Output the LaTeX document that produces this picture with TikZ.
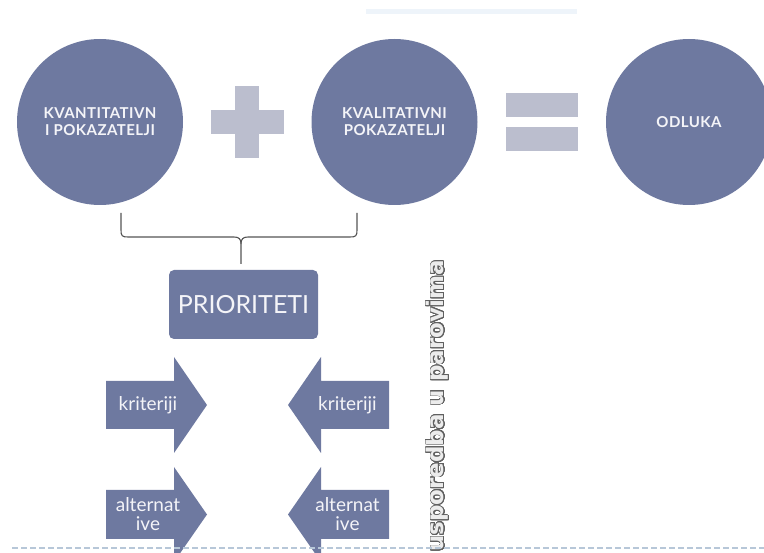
\documentclass[tikz,border=0pt]{standalone}
\usepackage{fontspec}
\setmainfont{Lato}
\newfontfamily\circfont[LetterSpace=3]{Lato}
\newfontfamily\rotfont{DejaVu Sans}
\usepackage[copies]{contour}
\contourlength{0.75pt}
\contournumber{32}
\definecolor{slate}{HTML}{6E79A0}
\definecolor{lightop}{HTML}{BBBECE}
\definecolor{txtw}{HTML}{F4F4F8}
\definecolor{dashc}{HTML}{B7C7D8}
\definecolor{bracec}{HTML}{555555}
\definecolor{faint}{HTML}{EEF4FA}
\tikzset{
  bigcirc/.style={circle, fill=slate, minimum size=166pt, inner sep=0pt, text=txtw,
    align=center, font=\circfont\bfseries\fontsize{15}{17}\selectfont},
  opbar/.style={fill=lightop},
  arrowshape/.style={fill=slate},
  arrowtext/.style={text=txtw, align=center, inner sep=0pt, font=\fontsize{19}{19}\selectfont},
  prbox/.style={rectangle, rounded corners=5pt, fill=slate, text=txtw, inner sep=0pt,
    minimum width=149pt, minimum height=69pt, font=\fontsize{25}{28}\selectfont},
  bracestyle/.style={draw=bracec, line width=1.1pt},
  dashline/.style={draw=dashc, line width=1.3pt, dash pattern=on 5.5pt off 3.5pt}
}
\begin{document}
\begin{tikzpicture}[x=1pt,y=-1pt]
\useasboundingbox (0,0) rectangle (764,553);
\clip (0,0) rectangle (764,553);
% faint strip at top
\fill[faint] (366,9) rectangle (577,14);
% circles
\node[bigcirc] (kvant) at (100,122) {KVANTITATIVN\\I POKAZATELJI};
\node[bigcirc] (kval) at (394.5,122) {KVALITATIVNI\\POKAZATELJI};
\node[bigcirc] (odl) at (689,122) {ODLUKA};
% plus
\fill[opbar] (235,86) rectangle (259,158);
\fill[opbar] (211,110) rectangle (284,134);
% equals
\fill[opbar] (506,93) rectangle (578,117);
\fill[opbar] (506,127) rectangle (578,151);
% brace
\coordinate (bl) at (121,213);
\coordinate (br) at (357,213);
\coordinate (bm) at (241,244);
\coordinate (bs) at (241,264);
\draw[bracestyle] (bl) -- (121,230) .. controls (121,236) and (122,237) .. (128,237)
  -- (234,237) .. controls (239,237) and (241,239) .. (bm) -- (bs);
\draw[bracestyle] (br) -- (357,230) .. controls (357,236) and (356,237) .. (350,237)
  -- (248,237) .. controls (243,237) and (241,239) .. (bm);
% priorities box
\node[prbox] (prio) at (243.5,304.5) {PRIORITETI};
% arrows: kriteriji
\fill[arrowshape] (106,381) -- (174,381) -- (174,357) -- (207,405) -- (174,453) -- (174,429) -- (106,429) -- cycle;
\node[arrowtext] (k1) at (148,405) {kriteriji};
\fill[arrowshape] (389,381) -- (321,381) -- (321,357) -- (288,405) -- (321,453) -- (321,429) -- (389,429) -- cycle;
\node[arrowtext] (k2) at (347.5,405) {kriteriji};
% arrows: alternative
\fill[arrowshape] (106,490) -- (174,490) -- (174,467) -- (207,514.5) -- (174,562) -- (174,539) -- (106,539) -- cycle;
\node[arrowtext] (a1) at (148,514.5) {alternat\\ive};
\fill[arrowshape] (389,490) -- (321,490) -- (321,467) -- (288,514.5) -- (321,562) -- (321,539) -- (389,539) -- cycle;
\node[arrowtext] (a2) at (347.5,514.5) {alternat\\ive};
% rotated label
\node[rotate=90, inner sep=0pt, font=\rotfont\bfseries\fontsize{23}{28}\selectfont] (usp) at (438,406)
  {\contour{gray!75!black}{\textcolor{white!85!gray}{usporedba u parovima}}};
% dashed line
\coordinate (dl) at (12,548);
\coordinate (dr) at (764,548);
\draw[dashline] (dl) -- (dr);
\end{tikzpicture}
\end{document}
